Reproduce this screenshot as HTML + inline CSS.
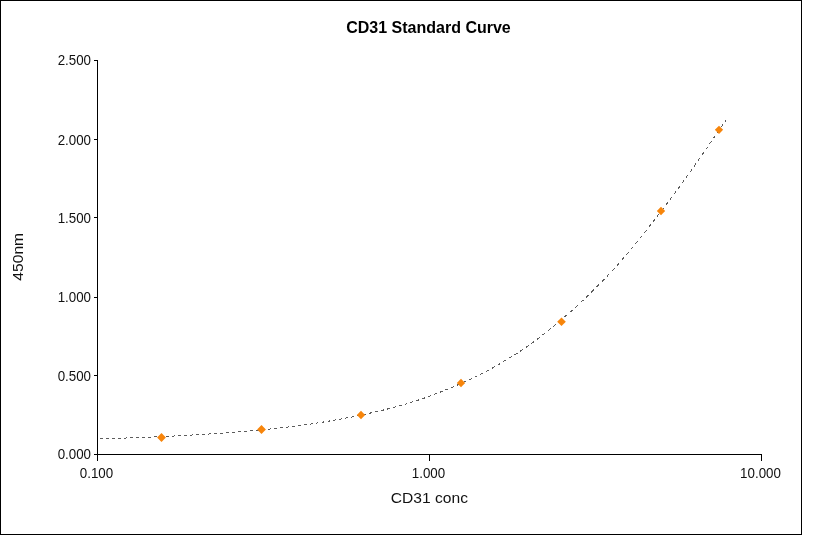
<!DOCTYPE html>
<html><head><meta charset="utf-8"><title>CD31 Standard Curve</title>
<style>
html,body{margin:0;padding:0;background:#fff;}
body{width:839px;height:535px;overflow:hidden;}
svg{display:block;}
text{font-family:"Liberation Sans",sans-serif;fill:#111;}
.tk{font-size:14.2px;}
.ax{font-size:15.1px;}
.ti{font-size:16px;font-weight:bold;fill:#000;}
</style></head><body>
<svg width="839" height="535" viewBox="0 0 839 535">
<rect x="0" y="0" width="839" height="535" fill="#fff"/>
<g shape-rendering="crispEdges" fill="#000">
<rect x="0" y="0" width="802" height="1"/>
<rect x="0" y="534" width="802" height="1"/>
<rect x="0" y="0" width="1" height="535"/>
<rect x="801" y="0" width="1" height="535"/>
<rect x="97" y="60" width="1" height="401"/>
<rect x="94" y="454" width="668" height="1"/>
<rect x="94" y="60" width="3" height="1"/>
<rect x="94" y="139" width="3" height="1"/>
<rect x="94" y="217" width="3" height="1"/>
<rect x="94" y="297" width="3" height="1"/>
<rect x="94" y="375" width="3" height="1"/>
<rect x="94" y="454" width="3" height="1"/>
<rect x="97" y="454" width="1" height="7"/>
<rect x="429" y="454" width="1" height="7"/>
<rect x="761" y="454" width="1" height="7"/>
</g>
<path d="M100.0 438.6L101.0 438.6L102.0 438.6L103.0 438.6M106.0 438.5L107.0 438.5L108.0 438.5L109.0 438.4M112.0 438.4L113.0 438.3L114.0 438.3L115.0 438.3M118.0 438.2L119.0 438.2L120.0 438.2L121.0 438.1M124.0 438.0L125.0 438.0L126.0 438.0L127.0 437.9M130.0 437.9L131.0 437.8L132.0 437.8L133.0 437.7M136.0 437.6L137.0 437.6L138.0 437.6L139.0 437.5M142.0 437.4L143.0 437.4L144.0 437.3L145.0 437.3M148.0 437.2L149.0 437.1L150.0 437.1L151.0 437.0M154.0 436.9L155.0 436.9L156.0 436.8L157.0 436.8M160.0 436.6L161.0 436.6L162.0 436.5L163.0 436.5M166.0 436.4L167.0 436.3L168.0 436.3L169.0 436.2M172.0 436.1L173.0 436.0L174.0 436.0L175.0 435.9M177.9 435.7L178.9 435.7L180.0 435.6L181.0 435.6M184.0 435.4L185.0 435.4L186.0 435.3L187.0 435.3M189.9 435.1L190.9 435.0L191.9 435.0L192.9 434.9M196.0 434.7L196.9 434.7L197.9 434.6L198.9 434.6M201.9 434.4L202.9 434.3L203.9 434.3L204.9 434.2M207.9 434.0L208.9 434.0L209.9 433.9L210.9 433.8M213.9 433.6L214.9 433.6L215.9 433.5L216.9 433.5M219.9 433.2L220.9 433.2L221.9 433.1L222.9 433.0M225.9 432.8L226.9 432.8L227.9 432.7L228.9 432.6M231.9 432.4L232.9 432.3L233.9 432.2L234.9 432.2M237.9 431.9L238.9 431.9L239.9 431.8L240.9 431.7M243.9 431.5L244.8 431.4L245.8 431.3L246.8 431.2M249.8 430.9L250.8 430.9L251.8 430.8L252.8 430.7M255.8 430.4L256.8 430.3L257.8 430.2L258.8 430.1M261.8 429.8L262.8 429.8L263.8 429.7L264.8 429.6M267.8 429.3L268.8 429.2L269.8 429.0L270.8 428.9M273.8 428.6L274.7 428.5L275.7 428.4L276.8 428.3M279.7 428.0L280.7 427.8L281.7 427.7L282.7 427.6M285.7 427.3L286.7 427.1L287.7 427.0L288.7 426.9M291.7 426.5L292.7 426.4L293.7 426.3L294.7 426.2M297.7 425.8L298.6 425.6L299.6 425.5L300.6 425.4M303.6 425.0L304.6 424.8L305.6 424.7L306.6 424.5M309.6 424.1L310.6 424.0L311.6 423.8L312.6 423.7M315.6 423.2L316.5 423.1L317.5 422.9L318.5 422.8M321.5 422.3L322.5 422.2L323.5 422.0L324.5 421.8M327.5 421.3L328.5 421.2L329.5 421.0L330.5 420.8M333.4 420.3L334.4 420.2L335.4 420.0L336.4 419.8M339.4 419.3L340.4 419.1L341.4 418.9L342.4 418.8M345.3 418.2L346.3 418.0L347.3 417.8L348.3 417.6M351.3 417.1L352.3 416.9L353.3 416.7L354.3 416.5M357.2 415.9L358.2 415.7L359.2 415.5L360.2 415.3M363.2 414.6L364.1 414.4L365.1 414.2L366.1 414.0M369.1 413.4L370.1 413.1L371.0 412.9L372.0 412.7M375.0 412.0L376.0 411.8L377.0 411.6L378.0 411.3M380.9 410.6L381.9 410.4L382.9 410.2L383.9 409.9M386.9 409.2L387.8 408.9L388.8 408.7L389.8 408.4M392.8 407.6L393.7 407.4L394.7 407.1L395.7 406.8M398.7 406.0L399.6 405.8L400.6 405.5L401.6 405.2M404.6 404.3L405.6 404.0L406.5 403.8L407.5 403.5M410.5 402.6L411.4 402.3L412.4 402.0L413.4 401.6M416.3 400.7L417.3 400.4L418.3 400.1L419.3 399.7M422.2 398.7L423.2 398.4L424.2 398.1L425.1 397.7M428.1 396.7L429.0 396.3L430.0 396.0L431.0 395.6M433.9 394.5L434.9 394.2L435.8 393.8L436.8 393.4M439.8 392.3L440.7 391.9L441.7 391.5L442.7 391.2M445.6 390.0L446.5 389.6L447.5 389.2L448.5 388.8M451.4 387.6L452.3 387.2L453.3 386.8L454.3 386.4M457.2 385.1L458.2 384.7L459.1 384.3L460.1 383.9M463.0 382.6L464.0 382.2L464.9 381.7L465.9 381.3M468.8 379.9L469.7 379.5L470.7 379.1L471.7 378.6M474.5 377.2L475.5 376.8L476.5 376.3L477.4 375.8M480.3 374.4L481.2 373.9L482.2 373.5L483.2 373.0M486.1 371.5L487.0 371.0L487.9 370.5L488.9 370.0M491.8 368.4L492.7 367.9L493.7 367.3L494.7 366.8M497.5 365.1L498.4 364.6L499.4 364.0L500.3 363.4M503.2 361.7L504.1 361.1L505.0 360.5L506.0 360.0M508.8 358.2L509.7 357.7L510.7 357.1L511.7 356.5M514.5 354.8L515.4 354.3L516.4 353.7L517.3 353.1M520.1 351.3L521.1 350.7L522.0 350.0L523.0 349.4M525.7 347.5L526.7 346.9L527.6 346.2L528.6 345.6M531.4 343.6L532.3 342.9L533.2 342.2L534.1 341.5M536.9 339.5L537.8 338.8L538.7 338.1L539.7 337.4M542.4 335.2L543.3 334.5L544.3 333.8L545.2 333.0M547.9 330.9L548.8 330.1L549.7 329.4L550.7 328.6M553.4 326.4L554.3 325.6L555.2 324.9L556.2 324.1M558.9 321.8L559.8 321.0L560.7 320.3L561.6 319.5M564.3 317.1L565.2 316.4L566.1 315.6L567.1 314.8M569.8 312.4L570.7 311.6L571.6 310.8L572.5 310.0M575.2 307.6L576.0 306.8L577.0 305.9L577.9 305.1M580.6 302.6L581.4 301.8L582.3 301.0L583.2 300.1M585.9 297.6L586.8 296.7L587.7 295.9L588.6 295.0M591.3 292.4L592.1 291.6L593.0 290.7L593.9 289.8M596.6 287.1L597.5 286.2L598.3 285.4L599.2 284.5M601.8 281.8L602.7 280.9L603.5 280.0L604.4 279.1M606.9 276.4L607.7 275.6L608.6 274.7L609.4 273.8M611.9 271.1L612.7 270.2L613.5 269.3L614.4 268.3M616.8 265.7L617.6 264.8L618.4 263.9L619.2 262.9M621.6 260.2L622.4 259.3L623.1 258.4L623.9 257.5M626.2 254.8L627.0 253.9L627.8 253.0L628.6 252.1M630.8 249.3L631.6 248.4L632.4 247.5L633.1 246.6M635.4 243.8L636.1 243.0L636.9 242.0L637.6 241.1M639.8 238.4L640.6 237.5L641.3 236.6L642.1 235.6M644.3 232.9L645.0 232.0L645.7 231.1L646.4 230.1M648.6 227.3L649.4 226.4L650.1 225.5L650.8 224.6M653.0 221.8L653.6 220.9L654.4 220.0L655.1 219.1M657.2 216.3L657.9 215.4L658.6 214.5L659.3 213.6M661.5 210.8L662.2 209.9L662.9 209.0L663.6 208.0M665.7 205.2L666.4 204.3L667.1 203.4L667.8 202.5M669.9 199.7L670.6 198.8L671.2 197.9L672.0 196.9M674.0 194.2L674.7 193.3L675.4 192.3L676.1 191.4M678.1 188.6L678.8 187.7L679.5 186.8L680.2 185.8M682.2 183.1L682.8 182.1L683.5 181.2L684.2 180.3M686.2 177.5L686.8 176.6L687.5 175.7L688.2 174.7M690.2 171.9L690.8 171.0L691.5 170.1L692.1 169.1M694.1 166.3L694.7 165.4L695.4 164.5L696.0 163.5M698.0 160.7L698.6 159.8L699.3 158.9L700.0 157.9M701.9 155.1L702.5 154.2L703.2 153.3L703.8 152.3M705.7 149.6L706.4 148.6L707.0 147.7L707.7 146.7M709.6 143.9L710.2 143.0L710.8 142.1L711.5 141.1M713.4 138.3L714.0 137.4L714.7 136.5L715.3 135.5M717.2 132.7L717.9 131.8L718.5 130.9L719.2 129.9M721.1 127.1L721.7 126.2L722.4 125.3L723.0 124.3M724.9 121.5L725.4 120.9L725.8 120.2L726.3 119.5" fill="none" stroke="#5c5c5c" stroke-width="1" shape-rendering="crispEdges"/>
<g fill="#F7850B">
<path d="M161.5 433.10L165.90 437.5L161.5 441.90L157.10 437.5Z"/>
<path d="M261.5 425.10L265.90 429.5L261.5 433.90L257.10 429.5Z"/>
<path d="M361 410.85L365.15 415L361 419.15L356.85 415Z"/>
<path d="M461 378.85L465.15 383L461 387.15L456.85 383Z"/>
<path d="M561.5 317.50L565.80 321.8L561.5 326.10L557.20 321.8Z"/>
<path d="M661 206.85L665.15 211L661 215.15L656.85 211Z"/>
<path d="M719 125.65L723.15 129.8L719 133.95L714.85 129.8Z"/>
</g>
<text class="tk" transform="translate(91 65) scale(0.94 1)" text-anchor="end">2.500</text>
<text class="tk" transform="translate(91 145) scale(0.94 1)" text-anchor="end">2.000</text>
<text class="tk" transform="translate(91 223) scale(0.94 1)" text-anchor="end">1.500</text>
<text class="tk" transform="translate(91 302) scale(0.94 1)" text-anchor="end">1.000</text>
<text class="tk" transform="translate(91 381) scale(0.94 1)" text-anchor="end">0.500</text>
<text class="tk" transform="translate(91 459) scale(0.94 1)" text-anchor="end">0.000</text>
<text class="tk" transform="translate(96.5 478) scale(0.94 1)" text-anchor="middle">0.100</text>
<text class="tk" transform="translate(428.5 478) scale(0.94 1)" text-anchor="middle">1.000</text>
<text class="tk" transform="translate(760.5 478) scale(0.94 1)" text-anchor="middle">10.000</text>
<text class="ti" x="428.5" y="32.5" text-anchor="middle">CD31 Standard Curve</text>
<text class="ax" transform="translate(429.3 503) scale(1.035 1)" text-anchor="middle">CD31 conc</text>
<text class="ax" transform="translate(23.3 256.8) rotate(-90) scale(1.035 1)" text-anchor="middle">450nm</text>
</svg></body></html>
